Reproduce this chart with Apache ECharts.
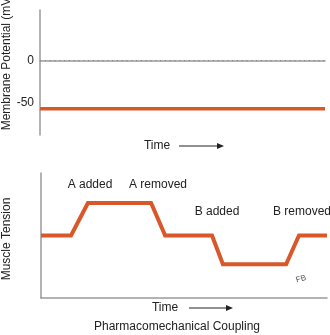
<!DOCTYPE html>
<html><head><meta charset="utf-8">
<script src="https://cdn.jsdelivr.net/npm/echarts@6/dist/echarts.min.js"></script>
<style>html,body{margin:0;padding:0;background:#fff}#c{width:330px;height:335px}</style>
</head><body><div id="c"></div>
<script>
// Top panel: membrane potential (mV) over time
var mpTime = [0, 100];
var mpValues = [-57, -57];
var zeroLine = [0, 0];
var mpTicks = [0, -50];
// Bottom panel: muscle tension (arbitrary units) over time
var tTime = [0, 10.5, 16.4, 38.5, 43.4, 59.8, 63.6, 85.7, 90.2, 100];
var tValues = [50, 50, 76, 76, 50, 50, 27, 27, 50, 50];
var annotations = ['A added', 'A removed', 'B added', 'B removed'];

var red = '#D9582A', axisCol = '#9a9a9a', txt = '#222';
var font = 'Liberation Sans, Arial, sans-serif';
var chart = echarts.init(document.getElementById('c'), null, {renderer: 'canvas'});

function txtEl(x, y, s, opts) {
  opts = opts || {};
  return {type: 'text', x: x, y: y, rotation: opts.rot || 0,
    style: {text: s, fill: opts.fill || txt, font: (opts.size || 12) + 'px ' + font,
      align: opts.align || 'center', verticalAlign: 'middle'}, z: 10};
}
function arrow(x1, x2, y) {
  return [
    {type: 'line', shape: {x1: x1, y1: y, x2: x2 - 5, y2: y}, style: {stroke: '#222', lineWidth: 1}},
    {type: 'polygon', shape: {points: [[x2, y], [x2 - 7, y - 3], [x2 - 7, y + 3]]}, style: {fill: '#222'}}
  ];
}

chart.setOption({
  animation: false,
  grid: [
    {left: 40, top: 10, width: 285, height: 125},
    {left: 41, top: 173, width: 286, height: 125}
  ],
  xAxis: [
    {gridIndex: 0, type: 'value', min: 0, max: 100, axisLine: {lineStyle: {color: axisCol, width: 1.5}},
      axisTick: {show: false}, axisLabel: {show: false}, splitLine: {show: false}},
    {gridIndex: 1, type: 'value', min: 0, max: 100, axisLine: {lineStyle: {color: axisCol, width: 1.5}},
      axisTick: {show: false}, axisLabel: {show: false}, splitLine: {show: false}}
  ],
  yAxis: [
    {gridIndex: 0, type: 'value', min: -88, max: 60, axisLine: {show: true, lineStyle: {color: axisCol, width: 1.5}},
      axisTick: {show: false}, splitLine: {show: false},
      axisLabel: {customValues: mpTicks, color: txt, fontSize: 12, fontFamily: font, margin: 6,
        padding: [0, 0, 3, 0]}},
    {gridIndex: 1, type: 'value', min: 0, max: 100, axisLine: {show: true, lineStyle: {color: axisCol, width: 1.5}},
      axisTick: {show: false}, axisLabel: {show: false}, splitLine: {show: false}}
  ],
  series: [
    {type: 'line', xAxisIndex: 0, yAxisIndex: 0, symbol: 'none', silent: true,
      data: mpTime.map(function (t, i) { return [t, zeroLine[i]]; }),
      lineStyle: {color: '#8a8a8a', width: 1.2, type: [1.2, 3.6]}},
    {type: 'line', xAxisIndex: 0, yAxisIndex: 0, symbol: 'none', silent: true,
      data: mpTime.map(function (t, i) { return [t, mpValues[i]]; }),
      lineStyle: {color: red, width: 3.5}},
    {type: 'line', xAxisIndex: 1, yAxisIndex: 1, symbol: 'none', silent: true,
      data: tTime.map(function (t, i) { return [t, tValues[i]]; }),
      lineStyle: {color: red, width: 4, join: 'miter'}}
  ],
  graphic: [
    txtEl(7, 62, 'Membrane Potential (mV)', {rot: Math.PI / 2}),
    txtEl(7, 239, 'Muscle Tension', {rot: Math.PI / 2}),
    txtEl(157, 146, 'Time'),
    txtEl(165, 308, 'Time'),
    txtEl(177, 327, 'Pharmacomechanical Coupling'),
    txtEl(90, 185, annotations[0]),
    txtEl(129, 185, annotations[1], {align: 'left'}),
    txtEl(217, 212, annotations[2]),
    txtEl(273, 212, annotations[3], {align: 'left'}),
    txtEl(301, 279, 'FB', {size: 8, fill: '#555', rot: 0.3})
  ].concat(arrow(179, 224, 146)).concat(arrow(189, 233, 308))
});
</script></body></html>
